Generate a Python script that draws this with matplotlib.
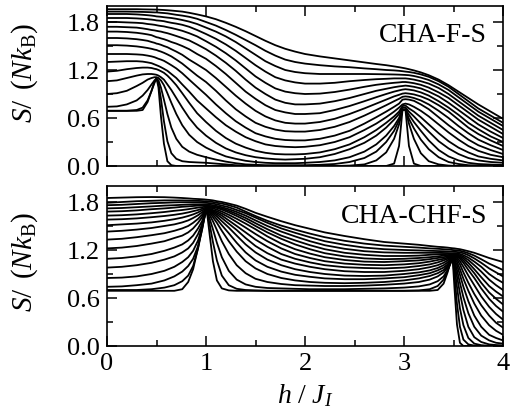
import matplotlib
matplotlib.use('Agg')
import matplotlib.pyplot as plt
from matplotlib.ticker import MultipleLocator, FormatStrFormatter

plt.rcParams['font.family'] = ['Liberation Serif', 'DejaVu Serif']
plt.rcParams['mathtext.fontset'] = 'custom'
plt.rcParams['mathtext.rm'] = 'Liberation Serif'
plt.rcParams['mathtext.it'] = 'Liberation Serif:italic'

# ---------------- top panel (CHA-F-S) ----------------
h_top = [0, 0.1, 0.2, 0.3, 0.36, 0.41, 0.45, 0.48, 0.5, 0.52,
         0.545, 0.575, 0.61, 0.65, 0.7, 0.76, 0.83, 0.91, 1.0, 1.1,
         1.2, 1.3, 1.4, 1.5, 1.6, 1.7, 1.8, 1.9, 2.0, 2.15,
         2.3, 2.45, 2.6, 2.72, 2.82, 2.9, 2.95, 2.985, 3.015, 3.05,
         3.1, 3.17, 3.25, 3.35, 3.45, 3.55, 3.65, 3.75, 3.875, 4.0]

top_S01 = [0.69, 0.69, 0.69, 0.69, 0.70, 0.80, 0.94, 1.06, 1.10, 0.98,
           0.62, 0.28, 0.06, 0.01, 0, 0, 0, 0, 0, 0,
           0, 0, 0, 0, 0, 0, 0, 0, 0, 0,
           0, 0, 0, 0, 0, 0.03, 0.25, 0.70, 0.70, 0.25,
           0.03, 0, 0, 0, 0, 0, 0, 0, 0, 0]
top_S02 = [0.69, 0.69, 0.69, 0.70, 0.73, 0.82, 0.94, 1.04, 1.09, 1.03,
           0.84, 0.56, 0.31, 0.16, 0.09, 0.06, 0.05, 0.045, 0.04, 0.03,
           0.02, 0.01, 0.005, 0, 0, 0, 0, 0, 0, 0,
           0, 0.005, 0.02, 0.07, 0.17, 0.34, 0.52, 0.70, 0.70, 0.53,
           0.34, 0.16, 0.06, 0.02, 0.005, 0, 0, 0, 0, 0]
top_S03 = [0.74, 0.745, 0.77, 0.82, 0.88, 0.95, 1.02, 1.07, 1.09, 1.07,
           0.98, 0.83, 0.65, 0.48, 0.34, 0.24, 0.18, 0.14, 0.11, 0.08,
           0.055, 0.035, 0.02, 0.015, 0.01, 0.01, 0.01, 0.01, 0.01, 0.015,
           0.025, 0.05, 0.10, 0.18, 0.30, 0.44, 0.57, 0.70, 0.70, 0.59,
           0.47, 0.33, 0.21, 0.11, 0.05, 0.025, 0.01, 0.007, 0.005, 0.003]
top_S04 = [0.90, 0.91, 0.94, 1.00, 1.04, 1.08, 1.10, 1.11, 1.11, 1.10,
           1.07, 1.01, 0.91, 0.79, 0.65, 0.51, 0.39, 0.30, 0.23, 0.17,
           0.12, 0.09, 0.065, 0.05, 0.04, 0.035, 0.035, 0.035, 0.04, 0.05,
           0.07, 0.11, 0.18, 0.27, 0.38, 0.50, 0.60, 0.71, 0.71, 0.64,
           0.55, 0.44, 0.32, 0.20, 0.12, 0.07, 0.04, 0.025, 0.018, 0.012]
top_S05 = [1.06, 1.07, 1.10, 1.13, 1.145, 1.15, 1.15, 1.145, 1.14, 1.13,
           1.11, 1.08, 1.02, 0.95, 0.85, 0.73, 0.60, 0.48, 0.38, 0.29,
           0.22, 0.17, 0.135, 0.11, 0.095, 0.085, 0.08, 0.085, 0.09, 0.11,
           0.15, 0.21, 0.29, 0.38, 0.48, 0.58, 0.65, 0.73, 0.73, 0.68,
           0.62, 0.53, 0.43, 0.31, 0.22, 0.15, 0.10, 0.07, 0.05, 0.04]
top_S06 = [1.18, 1.19, 1.21, 1.225, 1.23, 1.23, 1.225, 1.215, 1.21, 1.20,
           1.185, 1.165, 1.13, 1.08, 1.01, 0.91, 0.79, 0.66, 0.55, 0.44,
           0.35, 0.28, 0.23, 0.19, 0.165, 0.15, 0.145, 0.145, 0.15, 0.17,
           0.21, 0.27, 0.36, 0.45, 0.54, 0.62, 0.68, 0.75, 0.755, 0.72,
           0.68, 0.61, 0.52, 0.41, 0.31, 0.23, 0.17, 0.12, 0.09, 0.07]
top_S07 = [1.30, 1.305, 1.31, 1.31, 1.305, 1.295, 1.285, 1.27, 1.26, 1.25,
           1.235, 1.215, 1.19, 1.15, 1.10, 1.02, 0.93, 0.82, 0.72, 0.61,
           0.51, 0.43, 0.36, 0.31, 0.27, 0.25, 0.24, 0.235, 0.24, 0.26,
           0.30, 0.36, 0.45, 0.53, 0.61, 0.68, 0.73, 0.77, 0.78, 0.77,
           0.74, 0.69, 0.62, 0.52, 0.42, 0.33, 0.25, 0.19, 0.14, 0.11]
top_S08 = [1.40, 1.40, 1.40, 1.395, 1.39, 1.38, 1.37, 1.36, 1.35, 1.34,
           1.33, 1.315, 1.29, 1.26, 1.22, 1.16, 1.08, 0.99, 0.89, 0.77,
           0.66, 0.56, 0.48, 0.41, 0.37, 0.34, 0.325, 0.32, 0.32, 0.34,
           0.38, 0.44, 0.53, 0.61, 0.68, 0.74, 0.78, 0.83, 0.835, 0.83,
           0.815, 0.77, 0.71, 0.61, 0.51, 0.42, 0.33, 0.26, 0.20, 0.15]
top_S09 = [1.51, 1.51, 1.505, 1.495, 1.485, 1.475, 1.465, 1.455, 1.45, 1.44,
           1.43, 1.415, 1.395, 1.37, 1.33, 1.28, 1.21, 1.13, 1.05, 0.94,
           0.82, 0.71, 0.62, 0.54, 0.49, 0.455, 0.435, 0.43, 0.43, 0.45,
           0.49, 0.55, 0.63, 0.70, 0.76, 0.81, 0.84, 0.865, 0.87, 0.865,
           0.85, 0.82, 0.77, 0.69, 0.60, 0.50, 0.41, 0.33, 0.26, 0.20]
top_S10 = [1.60, 1.60, 1.595, 1.585, 1.575, 1.565, 1.55, 1.54, 1.53, 1.525,
           1.515, 1.50, 1.485, 1.46, 1.43, 1.39, 1.33, 1.27, 1.20, 1.10,
           0.99, 0.88, 0.78, 0.69, 0.62, 0.57, 0.54, 0.53, 0.53, 0.55,
           0.59, 0.65, 0.72, 0.78, 0.83, 0.87, 0.89, 0.905, 0.91, 0.905,
           0.895, 0.87, 0.83, 0.76, 0.68, 0.58, 0.48, 0.40, 0.32, 0.25]
top_S11 = [1.68, 1.68, 1.675, 1.665, 1.655, 1.645, 1.635, 1.62, 1.61, 1.605,
           1.595, 1.585, 1.57, 1.55, 1.53, 1.50, 1.46, 1.40, 1.34, 1.25,
           1.15, 1.04, 0.93, 0.84, 0.76, 0.70, 0.67, 0.65, 0.65, 0.66,
           0.70, 0.75, 0.81, 0.86, 0.90, 0.93, 0.945, 0.955, 0.96, 0.955,
           0.945, 0.92, 0.88, 0.81, 0.73, 0.64, 0.54, 0.46, 0.37, 0.30]
top_S12 = [1.74, 1.74, 1.735, 1.73, 1.72, 1.71, 1.70, 1.695, 1.69, 1.685,
           1.68, 1.67, 1.66, 1.645, 1.625, 1.60, 1.57, 1.52, 1.46, 1.38,
           1.29, 1.19, 1.08, 0.98, 0.90, 0.83, 0.79, 0.77, 0.77, 0.78,
           0.81, 0.85, 0.90, 0.94, 0.965, 0.985, 0.995, 1.00, 1.005, 1.00,
           0.99, 0.97, 0.93, 0.87, 0.79, 0.70, 0.61, 0.52, 0.43, 0.35]
top_S13 = [1.80, 1.80, 1.795, 1.79, 1.785, 1.775, 1.77, 1.765, 1.76, 1.755,
           1.75, 1.745, 1.735, 1.725, 1.71, 1.69, 1.66, 1.62, 1.56, 1.49,
           1.41, 1.32, 1.22, 1.12, 1.04, 0.97, 0.93, 0.91, 0.90, 0.905,
           0.925, 0.955, 0.99, 1.015, 1.03, 1.04, 1.045, 1.05, 1.05, 1.045,
           1.035, 1.015, 0.98, 0.92, 0.85, 0.76, 0.67, 0.58, 0.49, 0.40]
top_S14 = [1.85, 1.85, 1.85, 1.845, 1.84, 1.835, 1.83, 1.825, 1.82, 1.818,
           1.815, 1.81, 1.80, 1.79, 1.78, 1.765, 1.74, 1.70, 1.65, 1.59,
           1.52, 1.44, 1.35, 1.26, 1.18, 1.11, 1.07, 1.045, 1.03, 1.03,
           1.04, 1.06, 1.075, 1.085, 1.09, 1.095, 1.095, 1.095, 1.095, 1.09,
           1.08, 1.06, 1.03, 0.975, 0.90, 0.81, 0.72, 0.63, 0.54, 0.45]
top_S15 = [1.90, 1.90, 1.90, 1.895, 1.89, 1.885, 1.88, 1.875, 1.87, 1.868,
           1.865, 1.86, 1.855, 1.85, 1.84, 1.825, 1.805, 1.775, 1.73, 1.68,
           1.62, 1.55, 1.47, 1.39, 1.31, 1.25, 1.20, 1.175, 1.16, 1.15,
           1.15, 1.15, 1.15, 1.148, 1.146, 1.144, 1.142, 1.14, 1.138, 1.135,
           1.125, 1.105, 1.075, 1.02, 0.95, 0.86, 0.77, 0.68, 0.59, 0.50]
top_S16 = [1.93, 1.93, 1.93, 1.928, 1.926, 1.924, 1.922, 1.92, 1.92, 1.918,
           1.915, 1.912, 1.908, 1.90, 1.89, 1.88, 1.865, 1.84, 1.80, 1.755,
           1.70, 1.64, 1.575, 1.51, 1.44, 1.38, 1.33, 1.30, 1.28, 1.26,
           1.245, 1.235, 1.22, 1.21, 1.20, 1.195, 1.19, 1.185, 1.18, 1.175,
           1.165, 1.145, 1.115, 1.06, 0.99, 0.90, 0.81, 0.72, 0.63, 0.54]
top_S17 = [1.96, 1.96, 1.96, 1.96, 1.958, 1.957, 1.956, 1.955, 1.955, 1.954,
           1.952, 1.95, 1.947, 1.943, 1.937, 1.93, 1.915, 1.895, 1.87, 1.835,
           1.79, 1.74, 1.685, 1.625, 1.565, 1.51, 1.465, 1.43, 1.40, 1.37,
           1.345, 1.32, 1.295, 1.275, 1.26, 1.245, 1.235, 1.227, 1.22, 1.21,
           1.195, 1.17, 1.135, 1.08, 1.01, 0.93, 0.85, 0.77, 0.68, 0.59]

# ---------------- bottom panel (CHA-CHF-S) ----------------
h_bot = [0, 0.15, 0.3, 0.45, 0.58, 0.68, 0.76, 0.82, 0.87, 0.92,
         0.96, 0.985, 1.0, 1.015, 1.04, 1.07, 1.11, 1.16, 1.23, 1.31,
         1.4, 1.5, 1.62, 1.76, 1.9, 2.05, 2.2, 2.4, 2.6, 2.8,
         3.0, 3.15, 3.26, 3.34, 3.4, 3.44, 3.47, 3.49, 3.51, 3.535,
         3.565, 3.6, 3.65, 3.71, 3.78, 3.86, 3.93, 4.0]

bot_S01 = [0.69, 0.69, 0.69, 0.69, 0.69, 0.69, 0.71, 0.80, 0.96, 1.23,
           1.50, 1.64, 1.70, 1.62, 1.36, 1.06, 0.82, 0.72, 0.695, 0.69,
           0.69, 0.69, 0.69, 0.69, 0.69, 0.69, 0.69, 0.69, 0.69, 0.69,
           0.69, 0.69, 0.69, 0.70, 0.78, 0.92, 1.05, 1.12, 0.72, 0.27,
           0.04, 0, 0, 0, 0, 0, 0, 0]
bot_S02 = [0.70, 0.70, 0.70, 0.71, 0.73, 0.76, 0.81, 0.88, 1.00, 1.22,
           1.46, 1.62, 1.70, 1.65, 1.50, 1.30, 1.07, 0.88, 0.76, 0.715,
           0.70, 0.695, 0.69, 0.69, 0.69, 0.69, 0.69, 0.69, 0.69, 0.69,
           0.69, 0.695, 0.71, 0.75, 0.83, 0.94, 1.04, 1.11, 0.88, 0.53,
           0.24, 0.08, 0.02, 0.005, 0, 0, 0, 0]
bot_S03 = [0.74, 0.745, 0.76, 0.78, 0.82, 0.87, 0.93, 1.00, 1.09, 1.25,
           1.45, 1.61, 1.70, 1.67, 1.58, 1.46, 1.29, 1.11, 0.94, 0.83,
           0.77, 0.74, 0.725, 0.72, 0.715, 0.71, 0.71, 0.71, 0.715, 0.72,
           0.73, 0.745, 0.77, 0.81, 0.87, 0.95, 1.03, 1.10, 0.98, 0.74,
           0.47, 0.26, 0.10, 0.03, 0.01, 0.003, 0, 0]
bot_S04 = [0.85, 0.855, 0.87, 0.90, 0.94, 0.99, 1.05, 1.11, 1.19, 1.32,
           1.48, 1.61, 1.70, 1.68, 1.63, 1.56, 1.45, 1.31, 1.15, 1.01,
           0.91, 0.84, 0.80, 0.775, 0.76, 0.755, 0.75, 0.75, 0.755, 0.765,
           0.78, 0.80, 0.83, 0.87, 0.92, 0.98, 1.05, 1.10, 1.03, 0.87,
           0.66, 0.45, 0.24, 0.11, 0.05, 0.02, 0.012, 0.008]
bot_S05 = [0.98, 0.99, 1.01, 1.04, 1.08, 1.12, 1.17, 1.22, 1.29, 1.40,
           1.52, 1.62, 1.70, 1.69, 1.66, 1.61, 1.54, 1.44, 1.31, 1.18,
           1.06, 0.97, 0.90, 0.85, 0.82, 0.80, 0.79, 0.785, 0.79, 0.80,
           0.82, 0.845, 0.875, 0.91, 0.95, 1.00, 1.06, 1.10, 1.06, 0.95,
           0.79, 0.61, 0.41, 0.24, 0.13, 0.07, 0.04, 0.03]
bot_S06 = [1.09, 1.10, 1.12, 1.15, 1.19, 1.23, 1.27, 1.32, 1.38, 1.47,
           1.56, 1.64, 1.70, 1.695, 1.675, 1.64, 1.585, 1.51, 1.41, 1.29,
           1.17, 1.07, 0.99, 0.93, 0.89, 0.865, 0.845, 0.835, 0.835, 0.845,
           0.86, 0.885, 0.91, 0.945, 0.98, 1.02, 1.07, 1.105, 1.08, 1.01,
           0.89, 0.74, 0.56, 0.38, 0.24, 0.14, 0.10, 0.07]
bot_S07 = [1.22, 1.23, 1.25, 1.28, 1.31, 1.35, 1.38, 1.42, 1.47, 1.54,
           1.61, 1.665, 1.70, 1.70, 1.685, 1.66, 1.62, 1.56, 1.48, 1.38,
           1.27, 1.17, 1.08, 1.01, 0.96, 0.925, 0.90, 0.88, 0.875, 0.88,
           0.90, 0.92, 0.945, 0.975, 1.01, 1.045, 1.085, 1.11, 1.095, 1.05,
           0.96, 0.84, 0.69, 0.53, 0.38, 0.26, 0.19, 0.14]
bot_S08 = [1.33, 1.34, 1.36, 1.385, 1.41, 1.44, 1.47, 1.50, 1.54, 1.59,
           1.64, 1.68, 1.705, 1.705, 1.695, 1.675, 1.645, 1.60, 1.53, 1.45,
           1.35, 1.25, 1.16, 1.08, 1.03, 0.99, 0.96, 0.935, 0.925, 0.925,
           0.94, 0.96, 0.985, 1.01, 1.04, 1.07, 1.10, 1.12, 1.11, 1.08,
           1.02, 0.92, 0.79, 0.65, 0.51, 0.38, 0.29, 0.23]
bot_S09 = [1.43, 1.44, 1.455, 1.475, 1.50, 1.52, 1.545, 1.57, 1.60, 1.635,
           1.67, 1.695, 1.71, 1.71, 1.705, 1.69, 1.665, 1.63, 1.57, 1.50,
           1.42, 1.33, 1.24, 1.15, 1.09, 1.045, 1.01, 0.985, 0.975, 0.97,
           0.98, 1.00, 1.02, 1.045, 1.07, 1.09, 1.11, 1.125, 1.12, 1.10,
           1.06, 0.99, 0.88, 0.76, 0.62, 0.49, 0.40, 0.33]
bot_S10 = [1.51, 1.52, 1.53, 1.545, 1.565, 1.585, 1.605, 1.625, 1.645, 1.67,
           1.695, 1.71, 1.72, 1.72, 1.715, 1.70, 1.685, 1.655, 1.61, 1.55,
           1.48, 1.40, 1.31, 1.22, 1.15, 1.10, 1.06, 1.03, 1.015, 1.01,
           1.02, 1.035, 1.055, 1.075, 1.09, 1.105, 1.12, 1.13, 1.125, 1.115,
           1.09, 1.04, 0.95, 0.85, 0.72, 0.59, 0.50, 0.43]
bot_S11 = [1.58, 1.585, 1.595, 1.61, 1.625, 1.64, 1.655, 1.67, 1.685, 1.70,
           1.715, 1.725, 1.73, 1.73, 1.728, 1.72, 1.705, 1.68, 1.64, 1.59,
           1.53, 1.46, 1.37, 1.28, 1.21, 1.155, 1.11, 1.075, 1.055, 1.05,
           1.06, 1.07, 1.085, 1.10, 1.11, 1.12, 1.13, 1.135, 1.133, 1.125,
           1.105, 1.07, 1.00, 0.91, 0.79, 0.67, 0.59, 0.52]
bot_S12 = [1.63, 1.635, 1.645, 1.66, 1.675, 1.69, 1.70, 1.71, 1.72, 1.73,
           1.735, 1.74, 1.74, 1.74, 1.74, 1.735, 1.725, 1.705, 1.67, 1.625,
           1.57, 1.50, 1.42, 1.34, 1.27, 1.21, 1.16, 1.12, 1.095, 1.085,
           1.09, 1.10, 1.11, 1.12, 1.13, 1.135, 1.14, 1.14, 1.14, 1.135,
           1.12, 1.095, 1.04, 0.96, 0.86, 0.75, 0.68, 0.62]
bot_S13 = [1.68, 1.685, 1.695, 1.71, 1.72, 1.73, 1.74, 1.745, 1.75, 1.755,
           1.755, 1.755, 1.755, 1.755, 1.75, 1.745, 1.735, 1.72, 1.69, 1.65,
           1.60, 1.535, 1.46, 1.38, 1.32, 1.26, 1.21, 1.165, 1.14, 1.125,
           1.125, 1.13, 1.14, 1.145, 1.148, 1.15, 1.15, 1.15, 1.15, 1.145,
           1.135, 1.115, 1.075, 1.01, 0.93, 0.83, 0.76, 0.70]
bot_S14 = [1.72, 1.725, 1.735, 1.745, 1.755, 1.76, 1.765, 1.768, 1.77, 1.77,
           1.77, 1.77, 1.77, 1.768, 1.765, 1.76, 1.75, 1.735, 1.71, 1.675,
           1.63, 1.57, 1.50, 1.43, 1.37, 1.31, 1.26, 1.215, 1.185, 1.17,
           1.165, 1.165, 1.165, 1.165, 1.163, 1.162, 1.16, 1.16, 1.16, 1.157,
           1.15, 1.135, 1.105, 1.055, 0.99, 0.90, 0.84, 0.79]
bot_S15 = [1.76, 1.765, 1.775, 1.785, 1.79, 1.795, 1.797, 1.797, 1.796, 1.795,
           1.793, 1.791, 1.79, 1.788, 1.785, 1.78, 1.77, 1.755, 1.735, 1.70,
           1.66, 1.605, 1.54, 1.47, 1.415, 1.36, 1.31, 1.265, 1.23, 1.21,
           1.20, 1.195, 1.19, 1.187, 1.185, 1.183, 1.18, 1.18, 1.178, 1.175,
           1.17, 1.16, 1.135, 1.095, 1.04, 0.97, 0.92, 0.87]
bot_S16 = [1.79, 1.80, 1.81, 1.815, 1.82, 1.82, 1.82, 1.818, 1.816, 1.814,
           1.812, 1.81, 1.81, 1.808, 1.805, 1.80, 1.79, 1.78, 1.76, 1.73,
           1.68, 1.625, 1.565, 1.505, 1.455, 1.405, 1.36, 1.315, 1.28, 1.255,
           1.24, 1.23, 1.22, 1.215, 1.21, 1.207, 1.204, 1.20, 1.198, 1.195,
           1.19, 1.18, 1.16, 1.13, 1.085, 1.03, 0.99, 0.95]
bot_S17 = [1.85, 1.855, 1.86, 1.862, 1.86, 1.855, 1.85, 1.845, 1.84, 1.837,
           1.834, 1.832, 1.83, 1.828, 1.825, 1.82, 1.81, 1.80, 1.78, 1.755,
           1.715, 1.665, 1.615, 1.56, 1.51, 1.465, 1.42, 1.375, 1.335, 1.30,
           1.28, 1.265, 1.25, 1.24, 1.235, 1.23, 1.225, 1.222, 1.22, 1.215,
           1.21, 1.20, 1.185, 1.165, 1.135, 1.10, 1.075, 1.05]

top_curves = [top_S01, top_S02, top_S03, top_S04, top_S05, top_S06, top_S07, top_S08, top_S09,
              top_S10, top_S11, top_S12, top_S13, top_S14, top_S15, top_S16, top_S17]
bot_curves = [bot_S01, bot_S02, bot_S03, bot_S04, bot_S05, bot_S06, bot_S07, bot_S08, bot_S09,
              bot_S10, bot_S11, bot_S12, bot_S13, bot_S14, bot_S15, bot_S16, bot_S17]

panel_labels = ['CHA-F-S', 'CHA-CHF-S']
x_ticks = [0, 1, 2, 3, 4]
y_ticks = [0.0, 0.6, 1.2, 1.8]

W, H = 511, 419
fig = plt.figure(figsize=(W / 100, H / 100), dpi=100)
ax1 = fig.add_axes([107 / W, 1 - 166 / H, 396 / W, 160 / H])
ax2 = fig.add_axes([107 / W, 1 - 346 / H, 396 / W, 160 / H])

for c in top_curves:
    ax1.plot(h_top, c, color='black', lw=1.3, solid_joinstyle='round')
for c in bot_curves:
    ax2.plot(h_bot, c, color='black', lw=1.3, solid_joinstyle='round')

ylab = r'$S/\ \,(Nk_\mathrm{B})$'
for ax in (ax1, ax2):
    ax.set_xlim(0, 4)
    ax.set_ylim(0, 2.0)
    ax.set_xticks(x_ticks)
    ax.set_yticks(y_ticks)
    ax.xaxis.set_minor_locator(MultipleLocator(0.5))
    ax.yaxis.set_minor_locator(MultipleLocator(0.3))
    ax.yaxis.set_major_formatter(FormatStrFormatter('%.1f'))
    ax.tick_params(which='both', direction='in', top=True, right=True,
                   labelsize=19, width=1.1, pad=5)
    ax.tick_params(which='major', length=7)
    ax.tick_params(which='minor', length=4)
    for s in ax.spines.values():
        s.set_linewidth(1.2)
    ax.set_ylabel(ylab, fontsize=21)

ax1.tick_params(labelbottom=False)
ax1.yaxis.set_label_coords(-0.17, 0.58)
ax2.yaxis.set_label_coords(-0.17, 0.525)

ax1.text(0.96, 0.775, panel_labels[0], transform=ax1.transAxes, ha='right',
         va='baseline', fontsize=20)
ax2.text(0.96, 0.77, panel_labels[1], transform=ax2.transAxes, ha='right',
         va='baseline', fontsize=20)

ax2.set_xlabel(r'$h\ /\ J_I$', fontsize=20)
ax2.xaxis.set_label_coords(0.5, -0.225)

fig.savefig('out.png', dpi=100)
